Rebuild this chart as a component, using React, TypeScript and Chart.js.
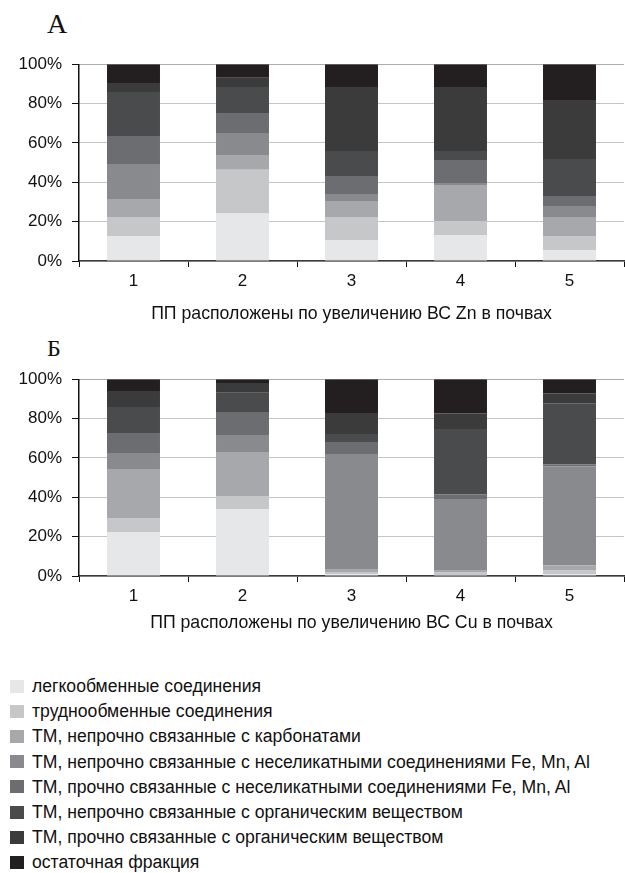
import React, { useEffect, useRef } from "react";
import { Chart, registerables } from "chart.js";

Chart.register(...registerables);

// Sampling plots, ordered by increasing gross content of the metal
const plots = ["1", "2", "3", "4", "5"];
const yTickValues = [0, 20, 40, 60, 80, 100];

const fractionNames = [
  "легкообменные соединения",
  "труднообменные соединения",
  "ТМ, непрочно связанные с карбонатами",
  "ТМ, непрочно связанные с неселикатными соединениями Fe, Mn, Al",
  "ТМ, прочно связанные с неселикатными соединениями Fe, Mn, Al",
  "ТМ, непрочно связанные с органическим веществом",
  "ТМ, прочно связанные с органическим веществом",
  "остаточная фракция",
];

const fractionColors = [
  "#e6e7e8",
  "#c6c7c9",
  "#a6a8ab",
  "#898a8d",
  "#6c6d70",
  "#4a4b4d",
  "#3b3b3c",
  "#231f20",
];

// Zn fractions, % of total
const znExchangeable = [12.7, 24.1, 10.7, 13.2, 5.6];
const znHardExchangeable = [9.7, 22.3, 11.7, 7.1, 7.1];
const znCarbonate = [9.1, 7.5, 8.1, 18.3, 9.7];
const znOxideLoose = [17.8, 11.2, 3.6, 1.1, 5.6];
const znOxideStrong = [14.3, 10.2, 9.1, 11.7, 5.1];
const znOrganicLoose = [22.3, 13.2, 12.7, 4.5, 18.8];
const znOrganicStrong = [4.6, 4.6, 32.6, 32.6, 30.0];
const znResidual = [9.5, 6.9, 11.5, 11.5, 18.1];

// Cu fractions, % of total
const cuExchangeable = [22.4, 34.1, 1.0, 0.5, 1.0];
const cuHardExchangeable = [7.1, 6.6, 1.0, 1.5, 2.0];
const cuCarbonate = [24.9, 22.4, 1.6, 1.0, 2.5];
const cuOxideLoose = [8.1, 8.6, 58.4, 36.1, 50.3];
const cuOxideStrong = [10.2, 11.7, 6.1, 2.5, 1.0];
const cuOrganicLoose = [13.2, 9.7, 4.1, 33.1, 31.0];
const cuOrganicStrong = [8.2, 5.0, 10.7, 8.1, 5.1];
const cuResidual = [5.9, 1.9, 17.1, 17.2, 7.1];

const znSeries = [
  znExchangeable, znHardExchangeable, znCarbonate, znOxideLoose,
  znOxideStrong, znOrganicLoose, znOrganicStrong, znResidual,
];
const cuSeries = [
  cuExchangeable, cuHardExchangeable, cuCarbonate, cuOxideLoose,
  cuOxideStrong, cuOrganicLoose, cuOrganicStrong, cuResidual,
];

const SANS = "'Liberation Sans', Arial, Helvetica, sans-serif";
const SERIF = "'Liberation Serif', 'Times New Roman', serif";

type StackProps = {
  top: number;
  axisTitle: string;
  series: number[][];
  titleGap: number;
};

function StackedChart({ top, axisTitle, series, titleGap }: StackProps) {
  const ref = useRef<HTMLCanvasElement | null>(null);

  useEffect(() => {
    if (!ref.current) return;
    const chart = new Chart(ref.current, {
      type: "bar",
      data: {
        labels: plots,
        datasets: series.map((values, i) => ({
          label: fractionNames[i],
          data: values,
          backgroundColor: fractionColors[i],
          borderWidth: 0,
          barPercentage: 0.486,
          categoryPercentage: 1,
        })),
      },
      options: {
        responsive: false,
        animation: false,
        layout: { padding: { top: 14.3, right: 1, left: 0, bottom: 0 } },
        plugins: {
          legend: { display: false },
          tooltip: { enabled: false },
          title: { display: false },
        },
        scales: {
          x: {
            stacked: true,
            offset: true,
            grid: {
              offset: true,
              drawOnChartArea: false,
              drawTicks: true,
              tickLength: 6,
              tickWidth: 1,
              tickColor: (c: any) => (c.index === plots.length ? "rgba(0,0,0,0)" : "#111"),
            },
            border: { color: "#3a3a3a", width: 1.5 },
            ticks: {
              color: "#111",
              font: { family: SANS, size: 17 },
              padding: 4,
              maxRotation: 0,
            },
            title: {
              display: true,
              text: axisTitle,
              color: "#111",
              font: { family: SANS, size: 17.7 },
              padding: { top: 0, bottom: titleGap },
            },
            afterFit: (s: any) => {
              s.height = 74;
              s.paddingLeft = 0;
              s.paddingRight = 0;
            },
          },
          y: {
            stacked: true,
            min: 0,
            max: 100,
            afterBuildTicks: (s: any) => {
              s.ticks = yTickValues.map((v) => ({ value: v }));
            },
            ticks: {
              color: "#111",
              font: { family: SANS, size: 17 },
              padding: 10,
              callback: (v: any) => `${v}%`,
            },
            grid: {
              color: (c: any) => (c.tick && c.tick.value === 100 ? "#5a5a5a" : "#8a8a8a"),
              lineWidth: 1,
              tickLength: 7,
              tickColor: "#111",
              tickWidth: 1,
            },
            border: { color: "#111", width: 1.5, dash: [1, 1] },
            afterFit: (s: any) => {
              s.width = 79;
              s.paddingTop = 0;
              s.paddingBottom = 0;
            },
          },
        },
      },
    } as any);
    return () => chart.destroy();
  }, [axisTitle, series, titleGap]);

  return (
    <canvas
      ref={ref}
      width={625}
      height={285}
      style={{ position: "absolute", left: 0, top, width: 625, height: 285, display: "block" }}
    />
  );
}

function PanelLetter({ text, top, size }: { text: string; top: number; size: number }) {
  return (
    <div
      style={{
        position: "absolute",
        left: 47,
        top,
        fontFamily: SERIF,
        fontSize: size,
        lineHeight: `${size}px`,
        color: "#111",
      }}
    >
      {text}
    </div>
  );
}

function Legend() {
  return (
    <>
      {fractionNames.map((name, i) => {
        const cy = 686 + i * 25.2;
        return (
          <div
            key={name}
            style={{
              position: "absolute",
              left: 0,
              top: cy - 10,
              height: 20,
              width: 625,
              fontFamily: SANS,
              fontSize: 17.6,
              lineHeight: "20px",
              color: "#111",
              whiteSpace: "nowrap",
            }}
          >
            <span
              style={{
                position: "absolute",
                left: 10,
                top: 3.5,
                width: 14,
                height: 13,
                background: fractionColors[i],
              }}
            />
            <span style={{ position: "absolute", left: 32, top: 0 }}>{name}</span>
          </div>
        );
      })}
    </>
  );
}

export default function App() {
  return (
    <div
      style={{
        position: "absolute",
        left: 0,
        top: 0,
        width: 625,
        height: 873,
        background: "#fff",
        overflow: "hidden",
      }}
    >
      <PanelLetter text="А" top={10} size={28} />
      <StackedChart
        top={50}
        axisTitle="ПП расположены по увеличению ВС Zn в почвах"
        series={znSeries}
        titleGap={10}
      />
      <PanelLetter text="Б" top={336} size={24} />
      <StackedChart
        top={365}
        axisTitle="ПП расположены по увеличению ВС Cu в почвах"
        series={cuSeries}
        titleGap={16}
      />
      <Legend />
    </div>
  );
}
